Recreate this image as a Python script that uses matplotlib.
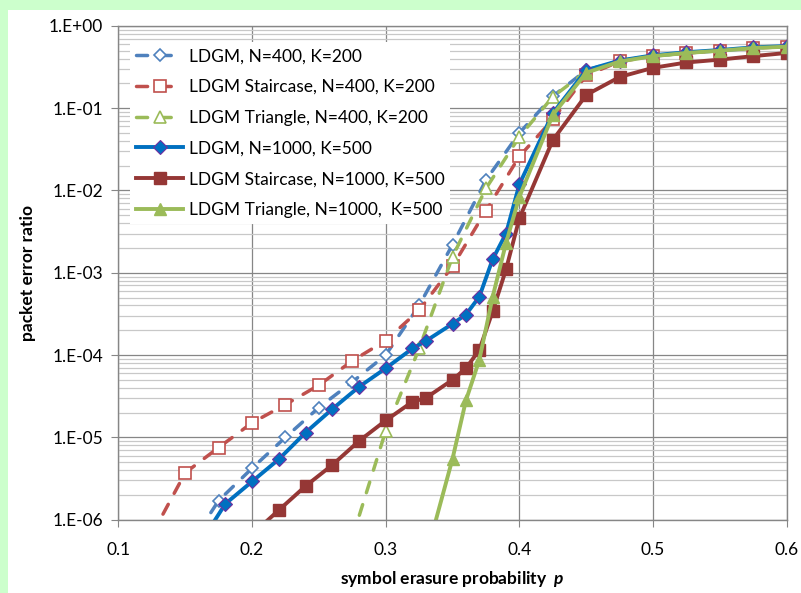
import numpy as np
import matplotlib
matplotlib.use('Agg')
import matplotlib.pyplot as plt
from matplotlib.patches import Rectangle
from matplotlib.ticker import FuncFormatter, LogLocator, NullFormatter

plt.rcParams['font.family'] = ['Lato', 'DejaVu Sans']
plt.rcParams['mathtext.fontset'] = 'custom'
plt.rcParams['mathtext.it'] = 'Lato:italic:bold'

# LDGM, N=400, K=200
p_ldgm400 = [0.15, 0.175, 0.2, 0.225, 0.25, 0.275, 0.3, 0.325, 0.35, 0.375, 0.4,
             0.425, 0.45, 0.475, 0.5, 0.525, 0.55, 0.575, 0.6]
per_ldgm400 = [4e-7, 1.7e-6, 4.2e-6, 1.0e-5, 2.3e-5, 4.7e-5, 1.0e-4, 4.0e-4, 2.2e-3, 1.34e-2, 5.0e-2,
               0.14, 0.29, 0.38, 0.43, 0.47, 0.50, 0.54, 0.56]
# LDGM Staircase, N=400, K=200
p_stair400 = [0.125, 0.15, 0.175, 0.2, 0.225, 0.25, 0.275, 0.3, 0.325, 0.35, 0.375, 0.4,
              0.425, 0.45, 0.475, 0.5, 0.525, 0.55, 0.575, 0.6]
per_stair400 = [6.5e-7, 3.7e-6, 7.5e-6, 1.5e-5, 2.5e-5, 4.3e-5, 8.5e-5, 1.5e-4, 3.5e-4, 1.2e-3, 5.7e-3, 2.6e-2,
                0.073, 0.25, 0.37, 0.43, 0.47, 0.50, 0.54, 0.56]
# LDGM Triangle, N=400, K=200
p_tri400 = [0.275, 0.3, 0.325, 0.35, 0.375, 0.4, 0.425, 0.45, 0.475, 0.5, 0.525, 0.55, 0.575, 0.6]
per_tri400 = [6e-7, 1.2e-5, 1.2e-4, 1.57e-3, 1.06e-2, 4.5e-2, 0.138, 0.28, 0.38, 0.43, 0.47, 0.50, 0.54, 0.56]
# LDGM, N=1000, K=500
p_ldgm1000 = [0.16, 0.18, 0.2, 0.22, 0.24, 0.26, 0.28, 0.3, 0.32, 0.33, 0.35, 0.36, 0.37, 0.38, 0.39, 0.4,
              0.425, 0.45, 0.475, 0.5, 0.525, 0.55, 0.575, 0.6]
per_ldgm1000 = [4.8e-7, 1.55e-6, 2.9e-6, 5.4e-6, 1.14e-5, 2.2e-5, 4.1e-5, 6.9e-5, 1.2e-4, 1.48e-4, 2.4e-4,
                3.1e-4, 5.1e-4, 1.46e-3, 3.0e-3, 1.19e-2, 0.087, 0.29, 0.38, 0.44, 0.48, 0.51, 0.55, 0.57]
# LDGM Staircase, N=1000, K=500
p_stair1000 = [0.2, 0.22, 0.24, 0.26, 0.28, 0.3, 0.32, 0.33, 0.35, 0.36, 0.37, 0.38, 0.39, 0.4,
               0.425, 0.45, 0.475, 0.5, 0.525, 0.55, 0.575, 0.6]
per_stair1000 = [6.6e-7, 1.3e-6, 2.55e-6, 4.6e-6, 9e-6, 1.6e-5, 2.7e-5, 3.0e-5, 5.0e-5, 6.9e-5, 1.15e-4,
                 3.4e-4, 1.1e-3, 4.6e-3, 0.041, 0.145, 0.24, 0.31, 0.36, 0.39, 0.43, 0.47]
# LDGM Triangle, N=1000, K=500
p_tri1000 = [0.33, 0.35, 0.36, 0.37, 0.38, 0.39, 0.4, 0.425, 0.45, 0.475, 0.5, 0.525, 0.55, 0.575, 0.6]
per_tri1000 = [3.5e-7, 5.5e-6, 2.8e-5, 8.7e-5, 5.1e-4, 2.3e-3, 8.4e-3, 0.083, 0.27, 0.37, 0.43, 0.47,
               0.50, 0.54, 0.56]

x_ticks = [0.1, 0.2, 0.3, 0.4, 0.5, 0.6]

fig = plt.figure(figsize=(8.01, 5.93), dpi=100, facecolor='#CCFFCC')
fig.patches.append(Rectangle((8 / 801, 0), 1, 1 - 10 / 593, transform=fig.transFigure,
                             facecolor='white', edgecolor='none', zorder=-1))
ax = fig.add_axes([0.1478, 0.1239, 0.8344, 0.8323])

dash = (0, (3.2, 3.6))
ax.plot(p_ldgm400, per_ldgm400, color='#4F81BD', lw=2.5, ls=dash, dash_capstyle='round',
        marker='D', ms=6.5, mfc='white', mec='#4F81BD', mew=1.2, label='LDGM, N=400, K=200')
ax.plot(p_stair400, per_stair400, color='#C0504D', lw=2.5, ls=dash, dash_capstyle='round',
        marker='s', ms=9, mfc='white', mec='#C0504D', mew=1.2, label='LDGM Staircase, N=400, K=200')
ax.plot(p_tri400, per_tri400, color='#9BBB59', lw=2.5, ls=dash, dash_capstyle='round',
        marker='^', ms=8.5, mfc='white', mec='#9BBB59', mew=1.2, label='LDGM Triangle, N=400, K=200')
ax.plot(p_ldgm1000, per_ldgm1000, color='#0070C0', lw=2.8,
        marker='D', ms=7, mfc='#0070C0', mec='#7030A0', mew=0.8, label='LDGM, N=1000, K=500')
ax.plot(p_stair1000, per_stair1000, color='#953735', lw=2.8,
        marker='s', ms=9, mfc='#953735', mec='#953735', label='LDGM Staircase, N=1000, K=500')
ax.plot(p_tri1000, per_tri1000, color='#9BBB59', lw=2.8,
        marker='^', ms=8.5, mfc='#9BBB59', mec='#9BBB59', label='LDGM Triangle, N=1000,  K=500')

ax.set_yscale('log')
ax.set_xlim(0.1, 0.6)
ax.set_ylim(1e-6, 1)
ax.set_xticks(x_ticks)
ax.xaxis.set_major_formatter(FuncFormatter(lambda v, pos: f'{v:.1f}'))
ax.yaxis.set_major_locator(LogLocator(base=10, numticks=10))
ax.yaxis.set_minor_locator(LogLocator(base=10, subs=np.arange(2, 10), numticks=20))
ax.yaxis.set_minor_formatter(NullFormatter())
ax.yaxis.set_major_formatter(FuncFormatter(lambda v, pos: f'1.E{int(round(np.log10(v))):+03d}'))

ax.grid(True, which='major', color='#868686', lw=0.9)
ax.grid(True, which='minor', axis='y', color='#C8C8C8', lw=0.9)
ax.set_axisbelow(True)
for s in ax.spines.values():
    s.set_color('#868686')
    s.set_linewidth(1.0)
ax.tick_params(which='major', direction='out', length=5, color='#868686', labelsize=12.5, pad=6)
ax.tick_params(which='minor', length=0)
ax.tick_params(axis='x', pad=11)

ax.set_ylabel('packet error ratio', fontsize=12.5, fontweight='bold', labelpad=9)
ax.set_xlabel('symbol erasure probability  $p$', fontsize=12.5, fontweight='bold', labelpad=8)

leg = ax.legend(loc='upper left', bbox_to_anchor=(0.005, 0.985), fontsize=12.5, handlelength=2.7,
                labelspacing=0.85, handletextpad=0.3, borderpad=0.35, fancybox=False)
leg.get_frame().set_facecolor('white')
leg.get_frame().set_edgecolor('none')
leg.get_frame().set_alpha(1)

fig.savefig('out.png', dpi=100, facecolor=fig.get_facecolor())
